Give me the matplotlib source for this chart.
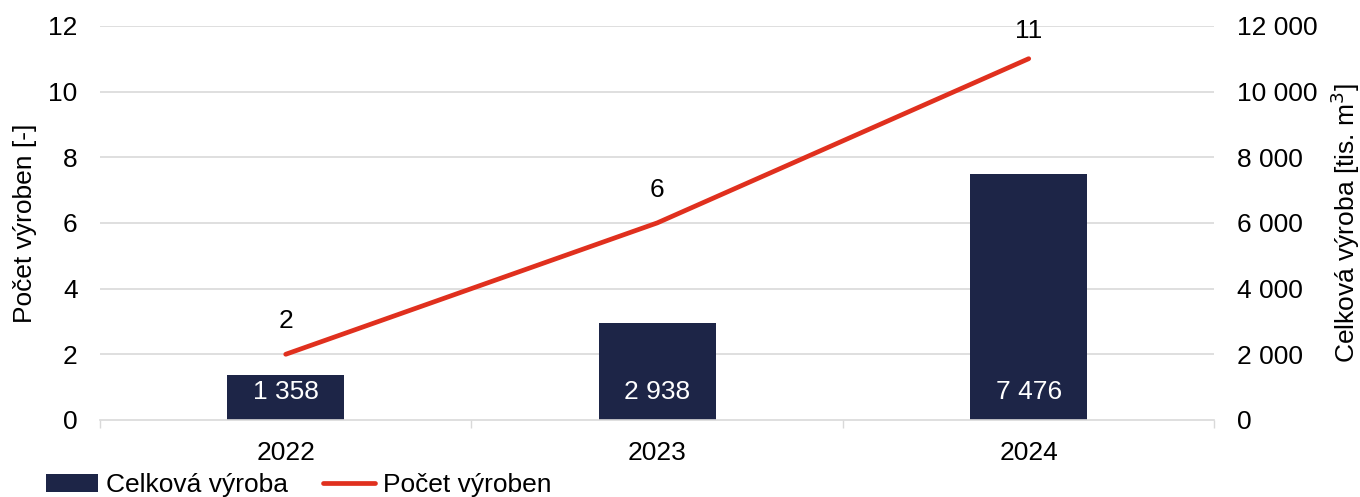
import matplotlib
matplotlib.use("Agg")
import matplotlib.pyplot as plt
import numpy as np

years = ["2022", "2023", "2024"]
production = [1358, 2938, 7476]      # tis. m3 (right axis)
plant_count = [2, 6, 11]             # left axis
left_ticks = [0, 2, 4, 6, 8, 10, 12]
right_ticks = [0, 2000, 4000, 6000, 8000, 10000, 12000]

FS = 19
plt.rcParams['font.family'] = ['Liberation Sans', 'DejaVu Sans']
plt.rcParams['font.size'] = FS

bar_color = "#1d2547"
line_color = "#e0301e"
grid_color = "#d9d9d9"

fig = plt.figure(figsize=(13.6, 4.97), dpi=100)
ax = fig.add_axes([0.0735, 0.155, 0.8195, 0.793])
ax2 = ax.twinx()

x = np.arange(len(years))

# bars on right axis
bars = ax2.bar(x, production, width=0.315, color=bar_color, zorder=2,
               label="Celková výroba")
ax2.set_ylim(0, 12000)
ax2.set_yticks(right_ticks)
ax2.set_yticklabels([f"{v:,}".replace(",", " ") for v in right_ticks])
for xi, v in zip(x, production):
    ax2.annotate(f"{v:,}".replace(",", " "), (xi, 0), xytext=(0, 20),
                 textcoords="offset points", ha="center", va="center",
                 color="white", fontsize=FS, zorder=4)

# line on left axis (draw on top)
ax.set_zorder(ax2.get_zorder() + 1)
ax.patch.set_visible(False)
line, = ax.plot(x, plant_count, color=line_color, lw=3.4, zorder=3,
                solid_capstyle="round", label="Počet výroben")
label_offsets = [24, 24, 20]   # last label kept inside the plot area
for xi, v, off in zip(x, plant_count, label_offsets):
    ax.annotate(str(v), (xi, v), xytext=(0, off), textcoords="offset points",
                ha="center", va="center", fontsize=FS)

ax.set_ylim(0, 12)
ax.set_yticks(left_ticks)
ax.set_xlim(-0.5, 2.5)
ax.set_xticks(x)
ax.set_xticklabels(years)
ax.set_xticks([-0.5, 0.5, 1.5, 2.5], minor=True)
ax.tick_params(axis="x", which="major", length=0, pad=15)
ax.tick_params(axis="x", which="minor", length=6, color=grid_color, width=1)
ax.tick_params(axis="y", length=0, pad=16)
ax2.tick_params(axis="y", length=0, pad=16)

# gridlines (on ax2 so they sit behind bars)
for t in right_ticks[1:]:
    ax2.axhline(t, color=grid_color, lw=1.2, zorder=0)

for a in (ax, ax2):
    for s in ("top", "right", "left"):
        a.spines[s].set_visible(False)
    a.spines["bottom"].set_color(grid_color)
    a.spines["bottom"].set_linewidth(1.2)
ax2.spines["bottom"].set_visible(False)

ax.set_ylabel("Počet výroben [-]", labelpad=8, fontsize=FS)
ax2.set_ylabel("Celková výroba [tis. m$^3$]", labelpad=8, fontsize=FS)

fig.legend([bars, line], ["Celková výroba", "Počet výroben"],
           loc="lower left", bbox_to_anchor=(0.016, -0.048), ncol=2,
           frameon=False, handlelength=2.0, handletextpad=0.3,
           columnspacing=1.3, fontsize=FS)

fig.savefig("out.png", dpi=100)
